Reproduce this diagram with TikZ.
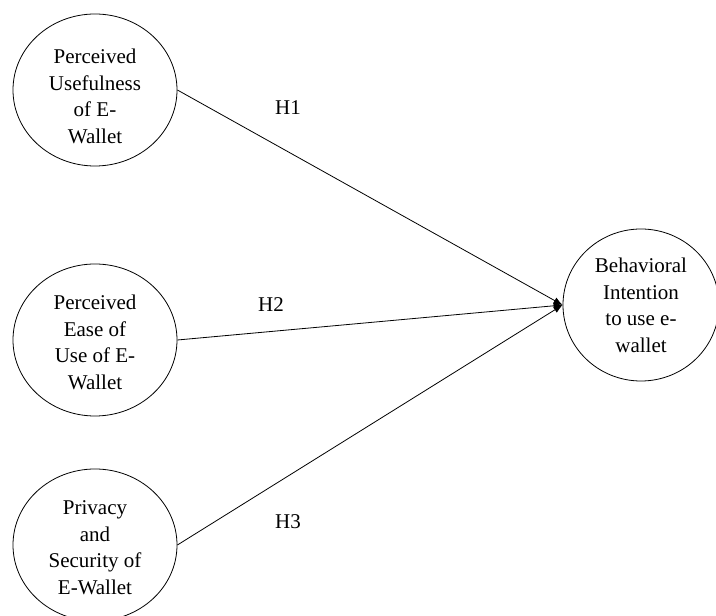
\documentclass[tikz,border=0pt]{standalone}
\usepackage{fontspec}
\setmainfont{Liberation Serif}
\usetikzlibrary{shapes.geometric,arrows.meta}
\newcommand{\ctext}[2]{\raisebox{#1}[0pt][0pt]{\begin{tabular}{@{}c@{}}#2\end{tabular}}}
\begin{document}
\begin{tikzpicture}[x=1pt,y=1pt,
  construct/.style={draw,ellipse,inner sep=0pt,minimum width=164pt,minimum height=152pt,align=center,font=\fontsize{21}{26.5}\selectfont,line width=0.8pt},
  path/.style={draw,line width=0.8pt,-{Latex[length=9pt,width=7pt]}},
  hyp/.style={font=\fontsize{21}{25}\selectfont}]
\useasboundingbox (0,0) rectangle (716,616);
\node[construct] (pu) at (95,526) {\ctext{-13.5pt}{Perceived\\Usefulness\\of E-\\Wallet}};
\node[construct] (pe) at (95,276) {\ctext{-9.25pt}{Perceived\\Ease of\\Use of E-\\Wallet}};
\node[construct] (ps) at (95,71) {\ctext{-9.25pt}{Privacy\\and\\Security of\\E-Wallet}};
\node[construct,minimum width=156pt] (bi) at (641,311) {\ctext{-7.25pt}{Behavioral\\Intention\\to use e-\\wallet}};
\draw[path] (pu.east) -- (bi.west);
\draw[path] (pe.east) -- (bi.west);
\draw[path] (ps.east) -- (bi.west);
\node[hyp] (h1) at (288,508) {H1};
\node[hyp] (h2) at (271,311) {H2};
\node[hyp] (h3) at (288,94) {H3};
\end{tikzpicture}
\end{document}
